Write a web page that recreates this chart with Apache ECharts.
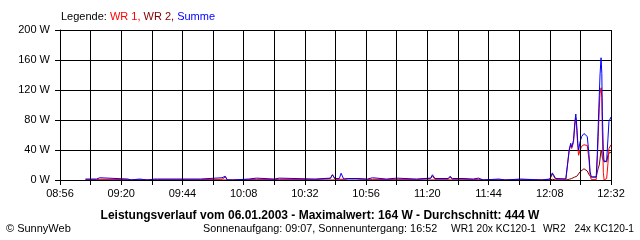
<!DOCTYPE html>
<html>
<head>
<meta charset="utf-8">
<script src="https://cdn.jsdelivr.net/npm/echarts@6/dist/echarts.min.js"></script>
<style>html,body{margin:0;padding:0;background:#fff}#c{width:640px;height:240px}</style>
</head>
<body>
<div id="c"></div>
<script>
// minutes after 08:56
const times = [10,14.3,14.8,15.6,16.1,26.6,27,27.8,28.2,31.2,31.6,34.2,34.6,37,37.6,38.2,55,55.5,63.5,64.8,65.6,67.7,68.2,74,74.5,77,77.5,84,84.5,86,86.5,100,100.5,106,106.8,107.8,109.5,110.2,111.2,113,116,116.5,120.5,121,122.5,123,128,128.5,132,132.5,139.7,140.2,145.3,146,147,152.2,152.9,153.8,158,158.5,162,162.5,164,164.5,166,166.5,172,172.5,174.5,175,180.5,181,188.8,189.3,192,193,194.3,198.3,199.6,200.2,200.6,201.3,201.8,202.2,202.6,203,203.3,203.9,204.5,205.4,206.1,206.7,207.4,207.8,208.3,210.2,210.6,211,211.4,211.7,212.1,212.4,212.6,213,213.3,214.3,214.8,215.2,216];
const summe = [1.3,1.3,3,3,1.3,1.3,0,0,1.3,1.3,0,0,1.3,1.3,3,1.3,1.3,3,3,5,0,0,1.3,1.3,2.5,2.5,1.3,1.3,2.5,2.5,1.3,1.3,2.5,2.5,7,2,2,9,1.3,2,2,1.3,1.3,3,3,1.3,1.3,2.5,2.5,1.3,1.3,2.5,2.5,7,2,2,5,2,2,1.3,1.3,2.5,2.5,0,0,1.3,1.3,0,0,1.3,1.3,0,0,1.3,1.3,9.5,2,1.5,40,49,44,53,76,88,71,49,40,51,58,62,63,58,33,11,4,4,33,73,113,140,163,142,91,38,24,26,55,78,84];
const wr1 = [0.5,0.5,1,1,0.5,0.5,0,0,0.5,0.5,0,0,0.5,0.5,1,0.5,0.5,1,1,4,0,0,0.5,0.5,1,1,0.5,0.5,1,1,0.5,0.5,2,2,7,1,1,3,1,2,2,0.5,0.5,1,1,0.5,0.5,1,1,0.5,0.5,2,2,5,1,1,4,1,1,0.5,0.5,1,1,0,0,0.5,0.5,0,0,0.5,0.5,0,0,0.5,0.5,8,1,1,39,47,42,50,72,83,66,43,33,40,45,47,48,46,26,6,0.5,0.5,25,58,95,115,123,110,65,10,0,2,22,42,47];
const wr2 = [0,0,0,0,0,0,0,0,0,0,0,0,0,0,0,0,0,0,0,0,0,0,0,0,0,0,0,0,0,0,0,0,0,0,0,0,0,0,0,0,0,0,0,0,0,0,0,0,0,0,0,0,0,0,0,0,0,0,0,0,0,0,0,0,0,0,0,0,0,0,0,0,0,0,0,1,0,0,1,2,2,3,4,5,5,6,7,11,13,15,15,12,7,5,4,4,10,16,20,28,40,36,30,26,24,24,33,36,37];
const yTicks = [0,40,80,120,160,200];
const startMin = 8*60+56;

function fmtTime(v){
  const m = startMin + v;
  const h = Math.floor(m/60), mm = m%60;
  return (h<10?'0':'')+h+':'+(mm<10?'0':'')+mm;
}
const font = 'Liberation Sans, Arial, sans-serif';
const chart = echarts.init(document.getElementById('c'), null, {renderer:'canvas'});
const mk = (arr)=>times.map((t,i)=>[t,arr[i]]);
chart.setOption({
  animation:false,
  backgroundColor:'#fff',
  grid:{left:60,right:29,top:30,bottom:60,containLabel:false},
  xAxis:{
    type:'value',min:0,max:216,interval:12,z:5,
    axisLine:{show:true,lineStyle:{color:'#000',width:1}},
    axisTick:{show:true,length:5,lineStyle:{color:'#000'}},
    splitLine:{show:true,lineStyle:{color:'#000',width:1}},
    axisLabel:{color:'#000',fontFamily:font,fontSize:11,margin:8,
      formatter:(v)=> (Math.round(v)%24===0)? fmtTime(Math.round(v)) : ''}
  },
  yAxis:{
    type:'value',min:yTicks[0],max:yTicks[yTicks.length-1],interval:40,
    axisLine:{show:true,lineStyle:{color:'#000',width:1}},
    axisTick:{show:true,length:5,lineStyle:{color:'#000'}},
    splitLine:{show:true,lineStyle:{color:'#000',width:1}},
    axisLabel:{color:'#000',fontFamily:font,fontSize:11,margin:10,formatter:(v)=>v+' W'}
  },
  series:[
    {name:'WR 2',type:'line',data:mk(wr2),showSymbol:false,lineStyle:{color:'#800000',width:1},itemStyle:{color:'#800000'},z:2},
    {name:'WR 1',type:'line',data:mk(wr1),showSymbol:false,lineStyle:{color:'#ff0000',width:1},itemStyle:{color:'#ff0000'},z:3},
    {name:'Summe',type:'line',data:mk(summe),showSymbol:false,lineStyle:{color:'#0000ff',width:1},itemStyle:{color:'#0000ff'},z:4}
  ],
  graphic:[
    {type:'text',left:61,top:11,style:{
      text:'{k|Legende: }{a|WR 1, }{b|WR 2, }{c|Summe}',
      rich:{k:{fill:'#000',fontFamily:font,fontSize:11},a:{fill:'#ff0000',fontFamily:font,fontSize:11},b:{fill:'#800000',fontFamily:font,fontSize:11},c:{fill:'#0000ff',fontFamily:font,fontSize:11}}
    }},
    {type:'text',x:320,y:216,style:{text:'Leistungsverlauf vom 06.01.2003 - Maximalwert: 164 W - Durchschnitt: 444 W',fill:'#000',font:'bold 12px '+font,textAlign:'center',textVerticalAlign:'middle'}},
    {type:'text',x:6,y:229,style:{text:'© SunnyWeb',fill:'#000',font:'11px '+font,textAlign:'left',textVerticalAlign:'middle'}},
    {type:'text',x:203,y:229,style:{text:'Sonnenaufgang: 09:07, Sonnenuntergang: 16:52',fill:'#000',font:'10.8px '+font,textAlign:'left',textVerticalAlign:'middle'}},
    {type:'text',x:536,y:229,style:{text:'WR1 20x KC120-1',fill:'#000',font:'10.2px '+font,textAlign:'right',textVerticalAlign:'middle'}},
    {type:'text',x:543,y:229,style:{text:'WR2',fill:'#000',font:'10.2px '+font,textAlign:'left',textVerticalAlign:'middle'}},
    {type:'text',x:634,y:229,style:{text:'24x KC120-1',fill:'#000',font:'10.2px '+font,textAlign:'right',textVerticalAlign:'middle'}}
  ]
});
</script>
</body>
</html>
